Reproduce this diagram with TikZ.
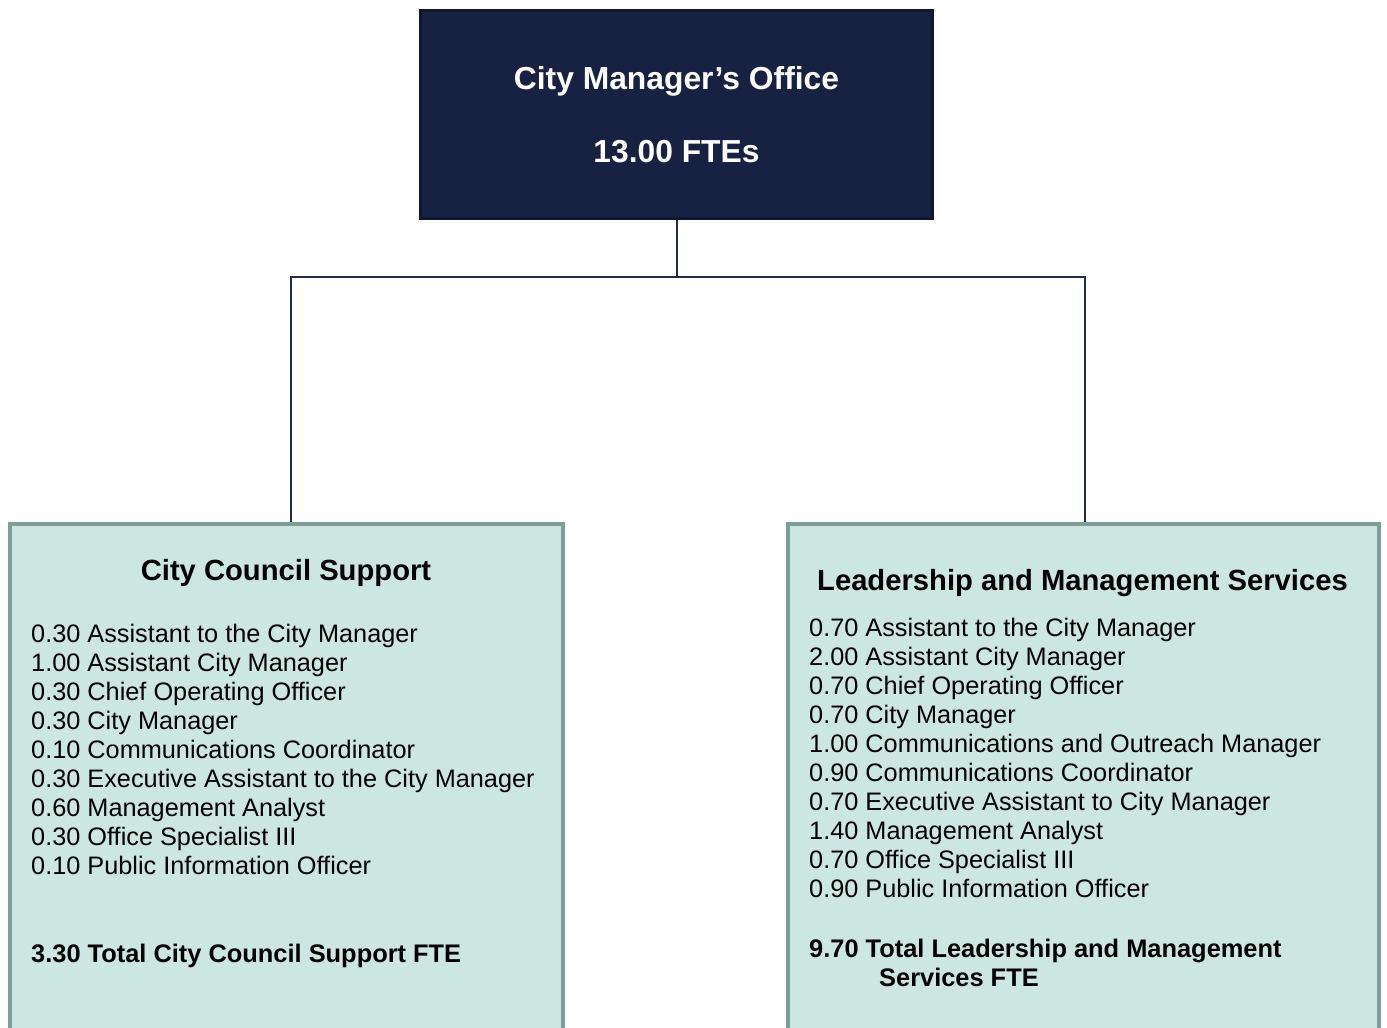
\documentclass[tikz,border=0pt]{standalone}
\usepackage{fontspec}
\setmainfont{Liberation Sans}
\definecolor{navyfill}{HTML}{172242}
\definecolor{navyedge}{HTML}{0E172D}
\definecolor{conncol}{HTML}{1F2A48}
\definecolor{tealfill}{HTML}{CCE6E1}
\definecolor{tealedge}{HTML}{7C9E97}
\tikzset{
  topbox/.style={draw=navyedge, fill=navyfill, line width=3.5pt, inner sep=0pt,
    minimum width=512pt, minimum height=208pt},
  subbox/.style={draw=tealedge, fill=tealfill, line width=4pt, inner sep=0pt,
    minimum height=516pt},
  conn/.style={draw=conncol, line width=2pt},
  toptext/.style={anchor=base, inner sep=0pt, text=white,
    font=\fontsize{31.8}{36}\selectfont\bfseries},
  titletext/.style={anchor=base, inner sep=0pt, text=black,
    font=\fontsize{29.2}{34}\selectfont\bfseries},
  itemtext/.style={anchor=base west, inner sep=0pt, text=black,
    font=\fontsize{25.3}{29}\selectfont},
  totaltext/.style={anchor=base west, inner sep=0pt, text=black,
    font=\fontsize{25.4}{29}\selectfont\bfseries},
}
\begin{document}
\begin{tikzpicture}[x=1pt, y=-1pt]
\useasboundingbox (0,0) rectangle (1387,1028);
\fill[white] (0,0) rectangle (1387,1028);

% boxes and connectors
\node[topbox] (top) at (676.5,114.5) {};
\coordinate (bus) at (676.5,277);
\node[subbox, minimum width=553pt] (ccs) at (286.5,782) {};
\node[subbox, minimum width=591pt] (lms) at (1083.5,782) {};
\draw[conn] (top.south) -- (bus);
\draw[conn] (bus) -| ([xshift=4.5pt]ccs.north);
\draw[conn] (bus) -| ([xshift=1.5pt]lms.north);
% redraw boxes over connector ends
\node[subbox, minimum width=553pt] at (ccs) {};
\node[subbox, minimum width=591pt] at (lms) {};
\node[topbox] at (top) {};

% top texts
\node[toptext] (t1) at (676.5,89) {City Manager’s Office};
\node[toptext] (t2) at (676.5,162) {13.00 FTEs};

% left box
\node[titletext] (ccsT) at (286,580) {City Council Support};
\foreach \i/\txt in {0/{0.30 Assistant to the City Manager},
                     1/{1.00 Assistant City Manager},
                     2/{0.30 Chief Operating Officer},
                     3/{0.30 City Manager},
                     4/{0.10 Communications Coordinator},
                     5/{0.30 Executive Assistant to the City Manager},
                     6/{0.60 Management Analyst},
                     7/{0.30 Office Specialist III},
                     8/{0.10 Public Information Officer}}
  \node[itemtext] (L\i) at (31,642+29.1*\i) {\txt};
\node[totaltext] (ccsTot) at (31,962) {3.30 Total City Council Support FTE};

% right box
\node[titletext] (lmsT) at (1082.5,590) {Leadership and Management Services};
\foreach \i/\txt in {0/{0.70 Assistant to the City Manager},
                     1/{2.00 Assistant City Manager},
                     2/{0.70 Chief Operating Officer},
                     3/{0.70 City Manager},
                     4/{1.00 Communications and Outreach Manager},
                     5/{0.90 Communications Coordinator},
                     6/{0.70 Executive Assistant to City Manager},
                     7/{1.40 Management Analyst},
                     8/{0.70 Office Specialist III},
                     9/{0.90 Public Information Officer}}
  \node[itemtext] (R\i) at (809,636+29.1*\i) {\txt};
\node[totaltext] (lmsTot1) at (809,957) {9.70 Total Leadership and Management};
\node[totaltext] (lmsTot2) at (879,986) {Services FTE};
\end{tikzpicture}
\end{document}
